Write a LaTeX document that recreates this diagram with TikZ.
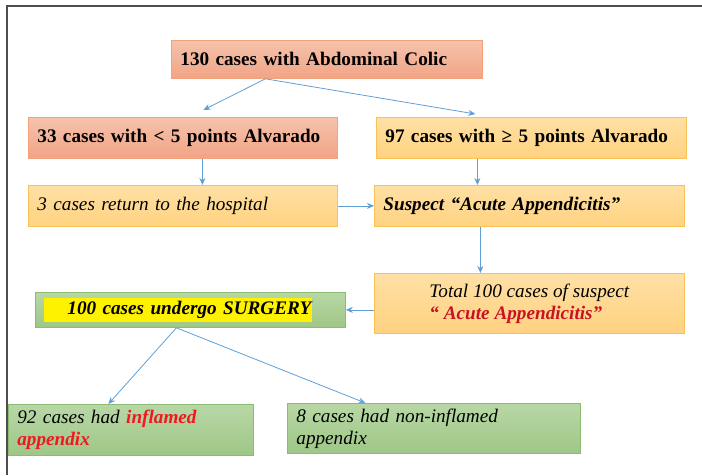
\documentclass[tikz,border=0pt]{standalone}
\usepackage{fontspec}
\setmainfont{Liberation Serif}
\usetikzlibrary{arrows.meta}
\definecolor{salmontop}{RGB}{246,194,172}
\definecolor{salmonbot}{RGB}{241,164,134}
\definecolor{salmonline}{RGB}{244,162,124}
\definecolor{orangetop}{RGB}{255,224,165}
\definecolor{orangebot}{RGB}{255,210,128}
\definecolor{orangeline}{RGB}{250,194,86}
\definecolor{greentop}{RGB}{184,215,166}
\definecolor{greenbot}{RGB}{158,199,134}
\definecolor{greenline}{RGB}{140,188,112}
\definecolor{flowblue}{RGB}{96,158,214}
\definecolor{darkred}{RGB}{200,18,36}
\definecolor{brightred}{RGB}{240,24,32}
\definecolor{framegray}{RGB}{78,78,78}
\tikzset{
  box/.style={draw, line width=0.8pt, anchor=north west, inner xsep=9pt, inner ysep=0pt,
    align=left, font=\fontsize{19.2}{22}\selectfont},
  boxsalmon/.style={box, draw=salmonline, top color=salmontop, bottom color=salmonbot},
  boxorange/.style={box, draw=orangeline, top color=orangetop, bottom color=orangebot},
  boxgreen/.style={box, draw=greenline, top color=greentop, bottom color=greenbot},
  flow/.style={draw=flowblue, line width=0.8pt, -{Stealth[length=7pt,width=6pt]}},
  frameline/.style={draw=framegray, line width=1.8pt},
}

\begin{document}
\begin{tikzpicture}[x=1pt,y=-1pt]
\useasboundingbox (0,0) rectangle (702,475);
\draw[frameline] (7,475) -- (7,6) -- (702,6);
% boxes
\node[boxsalmon, text width=293pt, minimum height=38pt] (colic) at (171,40)
  {\bfseries 130 cases with Abdominal Colic};
\node[boxsalmon, text width=291pt, minimum height=41pt] (low) at (28,117)
  {\bfseries 33 cases with < 5 points Alvarado};
\node[boxorange, text width=292pt, minimum height=41pt] (high) at (376,117)
  {\bfseries 97 cases with ≥ 5 points Alvarado};
\node[boxorange, text width=291pt, minimum height=41pt] (returned) at (28,185)
  {\itshape 3 cases return to the hospital};
\node[boxorange, text width=292pt, minimum height=41pt] (suspect) at (374,185)
  {\bfseries\itshape Suspect “Acute Appendicitis”};
\node[boxorange, minimum width=310pt, minimum height=60pt] (total) at (374,273)
  {\itshape Total 100 cases of suspect\\
   \color{darkred}\bfseries\itshape “ Acute Appendicitis”};
\node[boxgreen, text width=292pt, minimum height=35pt] (surgery) at (35,292)
  {\setlength{\fboxsep}{1pt}\colorbox{yellow}{\hspace*{22pt}\bfseries\itshape 100 cases undergo SURGERY\strut}};
\node[boxgreen, text width=227pt, minimum height=51pt] (inflamed) at (8,404)
  {\itshape 92 cases had {\color{brightred}\bfseries inflamed\\ appendix}};
\node[boxgreen, text width=275pt, minimum height=50pt] (noninflamed) at (287,403)
  {\itshape 8 cases had non-inflamed\\ appendix};
% arrows
\draw[flow] ([xshift=-61.5pt]colic.south) -- ([xshift=20.5pt,yshift=7pt]low.north);
\draw[flow] ([xshift=-61.5pt]colic.south) -- ([xshift=-56pt,yshift=3pt]high.north);
\draw[flow] ([xshift=19.5pt]low.south) -- ([xshift=19.5pt]returned.north);
\draw[flow] ([xshift=-54pt]high.south) -- ([xshift=-52pt]suspect.north);
\draw[flow] (returned.east) -- (suspect.west);
\draw[flow] ([xshift=-49pt]suspect.south) -- ([xshift=-49pt]total.north);
\draw[flow] (total.west |- surgery.east) -- (surgery.east);
\draw[flow] ([xshift=-14pt]surgery.south) -- ([xshift=-22.5pt]inflamed.north);
\draw[flow] ([xshift=-14pt]surgery.south) -- ([xshift=-68.5pt]noninflamed.north);
\end{tikzpicture}
\end{document}
